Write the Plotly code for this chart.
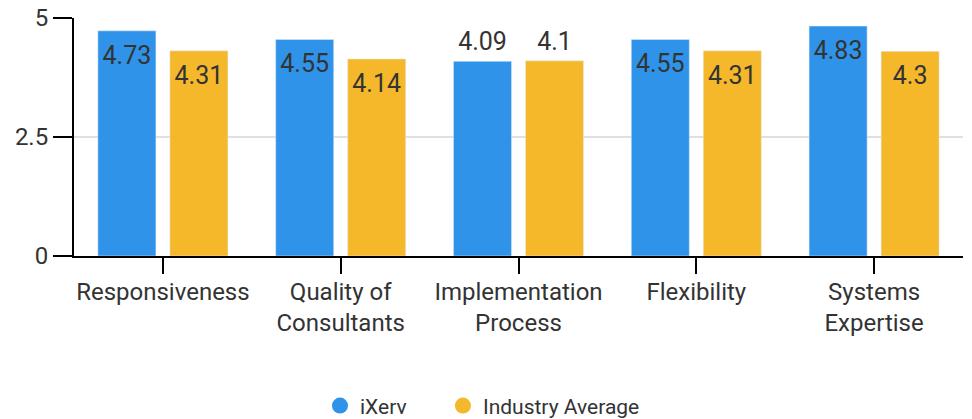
import plotly.graph_objects as go

categories = ["Responsiveness", "Quality of<br>Consultants", "Implementation<br>Process",
              "Flexibility", "Systems<br>Expertise"]
ixerv = [4.73, 4.55, 4.09, 4.55, 4.83]
industry = [4.31, 4.14, 4.10, 4.31, 4.30]
ixerv_labels = ["4.73", "4.55", "4.09", "4.55", "4.83"]
industry_labels = ["4.31", "4.14", "4.1", "4.31", "4.3"]
ixerv_inside = [True, True, False, True, True]
industry_inside = [True, True, False, True, True]

BLUE = "#2F93EA"
YELLOW = "#F6B82B"
FONT = "Roboto"
TXT = "#333333"
LABEL_SIZE = 25

fig = go.Figure()
fig.add_trace(go.Bar(x=categories, y=ixerv, name="iXerv", marker_color=BLUE,
                     offsetgroup="a", showlegend=False, legend="legend"))
fig.add_trace(go.Bar(x=categories, y=industry, name="Industry Average", marker_color=YELLOW,
                     offsetgroup="b", showlegend=False, legend="legend2"))


def label_trace(values, labels, inside, group):
    pos = ["bottom center" if i else "top center" for i in inside]
    sizes = [21 if i else 6 for i in inside]
    return go.Scatter(x=categories, y=values, mode="markers+text", text=labels,
                      textposition=pos, offsetgroup=group, cliponaxis=False,
                      marker=dict(size=sizes, opacity=0, color="white"),
                      textfont=dict(size=LABEL_SIZE, color=TXT, family=FONT),
                      showlegend=False, hoverinfo="skip")


fig.add_trace(label_trace(ixerv, ixerv_labels, ixerv_inside, "a"))
fig.add_trace(label_trace(industry, industry_labels, industry_inside, "b"))

# legend entries with circular symbols
fig.add_trace(go.Scatter(x=[None], y=[None], mode="markers", name="iXerv", legend="legend",
                         marker=dict(color=BLUE, size=22, symbol="circle")))
fig.add_trace(go.Scatter(x=[None], y=[None], mode="markers", name="Industry Average",
                         legend="legend2",
                         marker=dict(color=YELLOW, size=22, symbol="circle")))

legend_common = dict(orientation="h", xanchor="left", y=-0.63, yanchor="middle",
                     font=dict(size=21, color=TXT, family=FONT), itemsizing="trace",
                     bgcolor="rgba(0,0,0,0)")

fig.update_layout(
    width=972, height=419,
    margin=dict(l=74, r=9, t=18, b=163, autoexpand=False),
    paper_bgcolor="white", plot_bgcolor="white",
    font=dict(family=FONT, size=24, color=TXT),
    barmode="group", bargap=0.19, bargroupgap=0.194,
    scattermode="group", scattergap=0.19,
    legend=dict(x=0.2767, **legend_common),
    legend2=dict(x=0.415, **legend_common),
    showlegend=True,
)
fig.update_xaxes(showline=True, linecolor="black", linewidth=2, automargin=False,
                 ticks="outside", ticklen=16, tickwidth=2, tickcolor="black",
                 ticklabelstandoff=-3,
                 tickfont=dict(size=24, color=TXT, family=FONT), showgrid=False)
fig.update_yaxes(range=[0, 5], tickvals=[0, 2.5, 5], ticktext=["0", "2.5", "5"],
                 showline=True, linecolor="black", linewidth=2, automargin=False,
                 ticks="outside", ticklen=19, tickwidth=2, tickcolor="black",
                 showgrid=True, gridcolor="#E0E0E0", gridwidth=2, zeroline=False,
                 tickfont=dict(size=24, color=TXT, family=FONT))

fig.write_html("out.html", config={"displayModeBar": False},
               post_script="document.body.style.margin='0';document.body.style.overflow='hidden';")
